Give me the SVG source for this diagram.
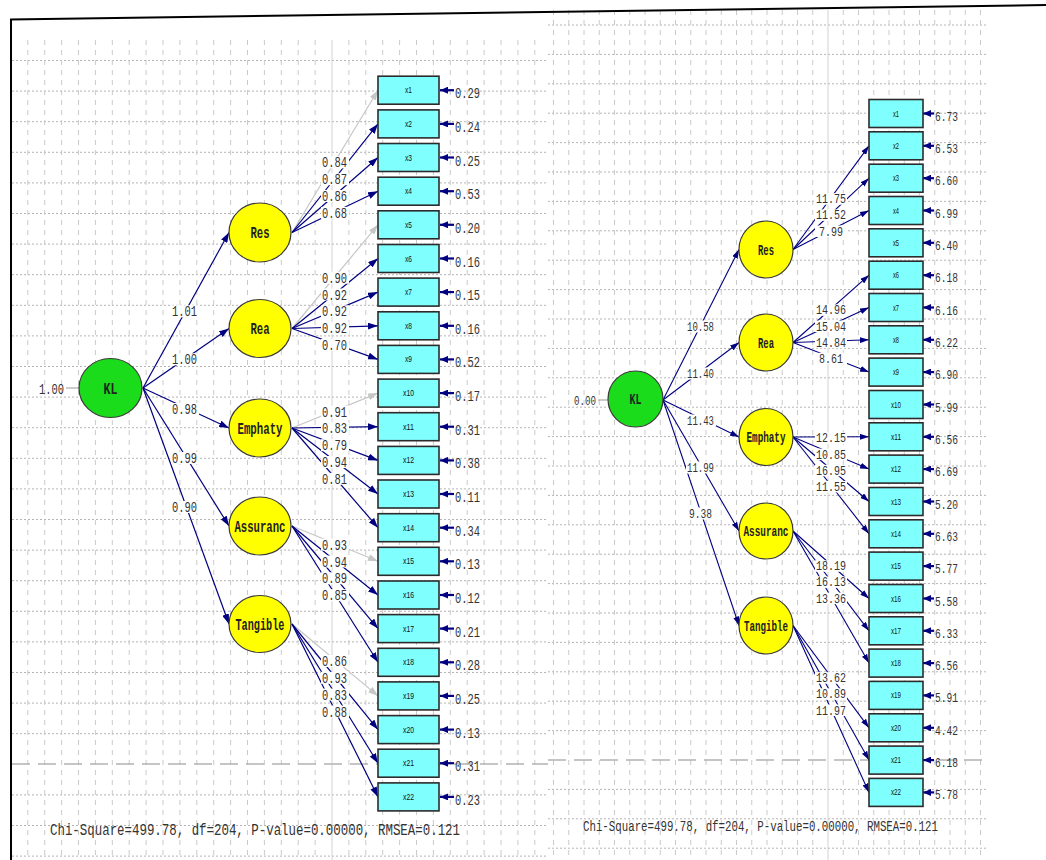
<svg xmlns="http://www.w3.org/2000/svg" width="1046" height="860" viewBox="0 0 1046 860">
<style>
.gh{stroke:#b4b4b4;stroke-width:1;stroke-dasharray:2 2;fill:none}
.gv{stroke:#cacaca;stroke-width:1;stroke-dasharray:5 5;fill:none}
.gm{stroke:#d2d2d2;stroke-width:1;fill:none}
.gl{stroke:#b3b3b3;stroke-width:1.5;stroke-dasharray:18 8;fill:none}
.p{stroke:#000080;stroke-width:1.2;fill:none;marker-end:url(#ah)}
.pg{stroke:#c6c6c6;stroke-width:1.2;fill:none;marker-end:url(#ahg)}
.ps{stroke:#000080;stroke-width:1.1;fill:none;marker-end:url(#ahs)}
.e{stroke:#000080;stroke-width:2.2;fill:none;marker-end:url(#ahe)}
.v{stroke:#999;stroke-width:1;fill:none}
.box{fill:#80ffff;stroke:#2b2b2b;stroke-width:1.6}
.lat{fill:#ffff00;stroke:#3a3a3a;stroke-width:1.2}
.kl{fill:#1adc1a;stroke:#3a3a3a;stroke-width:1.2}
.t{font-family:"Liberation Mono",monospace;fill:#333}
.tl{font-size:15px}
.tr{font-size:13px}
.n{font-family:"Liberation Mono",monospace;font-weight:bold;fill:#222;text-anchor:middle}
.bx{font-family:"Liberation Sans",sans-serif;font-size:9px;fill:#111;text-anchor:middle}
.bg{fill:#fff}
</style>
<defs>
<marker id="ah" viewBox="0 0 10 7" refX="10" refY="3.5" markerWidth="10" markerHeight="7" markerUnits="userSpaceOnUse" orient="auto"><path d="M0,0L10,3.5L0,7z" fill="#000080"/></marker>
<marker id="ahs" viewBox="0 0 9 6" refX="9" refY="3" markerWidth="9" markerHeight="6" markerUnits="userSpaceOnUse" orient="auto"><path d="M0,0L9,3L0,6z" fill="#000080"/></marker>
<marker id="ahg" viewBox="0 0 10 7" refX="10" refY="3.5" markerWidth="10" markerHeight="7" markerUnits="userSpaceOnUse" orient="auto"><path d="M0,0L10,3.5L0,7z" fill="#c6c6c6"/></marker>
<marker id="ahe" viewBox="0 0 8 7" refX="8" refY="3.5" markerWidth="8" markerHeight="7" markerUnits="userSpaceOnUse" orient="auto"><path d="M0,0L8,3.5L0,7z" fill="#000080"/></marker>
</defs>
<rect width="1046" height="860" fill="#fff"/>
<g id="grid">
<path class="gh" d="M12 60.5H548M12 91.1H548M12 121.7H548M12 152.3H548M12 182.9H548M12 213.5H548M12 244.1H548M12 274.7H548M12 305.3H548M12 335.9H548M12 366.5H548M12 397.1H548M12 427.7H548M12 458.3H548M12 488.9H548M12 519.5H548M12 550.1H548M12 580.7H548M12 611.3H548M12 641.9H548M12 672.5H548M12 703.1H548M12 733.7H548M12 794.9H548M12 825.5H548M12 856.1H548"/>
<path class="gv" d="M27.8 40V860M44.7 40V860M61.6 40V860M78.5 40V860M95.4 40V860M112.3 40V860M129.2 40V860M146.1 40V860M163 40V860M179.9 40V860M196.8 40V860M213.7 40V860M230.6 40V860M247.5 40V860M264.4 40V860M281.3 40V860M298.2 40V860M315.1 40V860M348.9 40V860M365.8 40V860M382.7 40V860M399.6 40V860M416.5 40V860M433.4 40V860M450.3 40V860M467.2 40V860M484.1 40V860M501 40V860M517.9 40V860M534.8 40V860"/>
<path class="gh" d="M548 25H988M548 54.4H988M548 83.8H988M548 113.2H988M548 142.6H988M548 172H988M548 201.4H988M548 230.8H988M548 260.2H988M548 289.6H988M548 319H988M548 348.4H988M548 377.8H988M548 407.2H988M548 436.6H988M548 466H988M548 495.4H988M548 524.8H988M548 554.2H988M548 583.6H988M548 613H988M548 642.4H988M548 671.8H988M548 701.2H988M548 730.6H988M548 789.4H988M548 818.8H988M548 848.2H988"/>
<path class="gv" d="M553.5 10V860M568.75 10V860M584 10V860M599.25 10V860M614.5 10V860M629.75 10V860M645 10V860M660.25 10V860M675.5 10V860M690.75 10V860M706 10V860M721.25 10V860M736.5 10V860M751.75 10V860M767 10V860M782.25 10V860M797.5 10V860M812.75 10V860M843.25 10V860M858.5 10V860M873.75 10V860M889 10V860M904.25 10V860M919.5 10V860M934.75 10V860M950 10V860M965.25 10V860M980.5 10V860"/>
<path class="gm" d="M332 40V860M828 10V860"/>
<path class="gl" d="M12 764H548M548 760H988"/>
</g>
<g id="frame">
<path d="M10 19.5L1046 5" stroke="#000" stroke-width="2" fill="none"/>
<path d="M11 19V860" stroke="#000" stroke-width="2" fill="none"/>
</g>
<g id="connectors">
<path class="v" d="M66 388H79"/>
<path class="p" d="M143 388L229 232.5"/>
<path class="p" d="M143 388L229 328.5"/>
<path class="p" d="M143 388L229 428"/>
<path class="p" d="M143 388L229 526"/>
<path class="p" d="M143 388L229 624"/>
<path class="pg" d="M292 232.5L378 90.2"/>
<path class="p" d="M292 232.5L378 123.9"/>
<path class="p" d="M292 232.5L378 157.5"/>
<path class="p" d="M292 232.5L378 191.2"/>
<path class="pg" d="M292 328.5L378 224.8"/>
<path class="p" d="M292 328.5L378 258.5"/>
<path class="p" d="M292 328.5L378 292.1"/>
<path class="p" d="M292 328.5L378 325.8"/>
<path class="p" d="M292 328.5L378 359.4"/>
<path class="pg" d="M292 428L378 393.1"/>
<path class="p" d="M292 428L378 426.7"/>
<path class="p" d="M292 428L378 460.4"/>
<path class="p" d="M292 428L378 494"/>
<path class="p" d="M292 428L378 527.7"/>
<path class="pg" d="M292 526L378 561.3"/>
<path class="p" d="M292 526L378 595"/>
<path class="p" d="M292 526L378 628.6"/>
<path class="p" d="M292 526L378 662.3"/>
<path class="pg" d="M292 624L378 695.9"/>
<path class="p" d="M292 624L378 729.6"/>
<path class="p" d="M292 624L378 763.2"/>
<path class="p" d="M292 624L378 796.9"/>
<g id="err-left">
<path class="e" d="M454 90.2H440"/><path class="e" d="M454 123.9H440"/><path class="e" d="M454 157.5H440"/><path class="e" d="M454 191.2H440"/><path class="e" d="M454 224.8H440"/><path class="e" d="M454 258.5H440"/><path class="e" d="M454 292.1H440"/><path class="e" d="M454 325.8H440"/><path class="e" d="M454 359.4H440"/><path class="e" d="M454 393.1H440"/><path class="e" d="M454 426.7H440"/><path class="e" d="M454 460.4H440"/><path class="e" d="M454 494H440"/><path class="e" d="M454 527.7H440"/><path class="e" d="M454 561.3H440"/><path class="e" d="M454 595H440"/><path class="e" d="M454 628.6H440"/><path class="e" d="M454 662.3H440"/><path class="e" d="M454 695.9H440"/><path class="e" d="M454 729.6H440"/><path class="e" d="M454 763.2H440"/><path class="e" d="M454 796.9H440"/>
</g>
<g class="bg">
<rect x="171" y="305.3" width="28" height="12"/><rect x="171" y="353.3" width="28" height="12"/><rect x="171" y="403" width="28" height="12"/><rect x="171" y="452" width="28" height="12"/><rect x="171" y="501" width="28" height="12"/>
<rect x="321" y="156.4" width="28" height="12"/><rect x="321" y="173.2" width="28" height="12"/><rect x="321" y="190" width="28" height="12"/><rect x="321" y="206.9" width="28" height="12"/>
<rect x="321" y="271.7" width="28" height="12"/><rect x="321" y="288.5" width="28" height="12"/><rect x="321" y="305.3" width="28" height="12"/><rect x="321" y="322.2" width="28" height="12"/><rect x="321" y="339" width="28" height="12"/>
<rect x="321" y="405.6" width="28" height="12"/><rect x="321" y="422.4" width="28" height="12"/><rect x="321" y="439.2" width="28" height="12"/><rect x="321" y="456" width="28" height="12"/><rect x="321" y="472.9" width="28" height="12"/>
<rect x="321" y="538.7" width="28" height="12"/><rect x="321" y="555.5" width="28" height="12"/><rect x="321" y="572.3" width="28" height="12"/><rect x="321" y="589.2" width="28" height="12"/>
<rect x="321" y="655" width="28" height="12"/><rect x="321" y="671.8" width="28" height="12"/><rect x="321" y="688.6" width="28" height="12"/><rect x="321" y="705.5" width="28" height="12"/>
</g>
<g class="t tl">
<text x="39" y="394" textLength="25" lengthAdjust="spacingAndGlyphs">1.00</text>
<text x="172" y="316.3" textLength="25" lengthAdjust="spacingAndGlyphs">1.01</text>
<text x="172" y="364.3" textLength="25" lengthAdjust="spacingAndGlyphs">1.00</text>
<text x="172" y="414" textLength="25" lengthAdjust="spacingAndGlyphs">0.98</text>
<text x="172" y="463" textLength="25" lengthAdjust="spacingAndGlyphs">0.99</text>
<text x="172" y="512" textLength="25" lengthAdjust="spacingAndGlyphs">0.90</text>
<text x="322" y="167.4" textLength="25" lengthAdjust="spacingAndGlyphs">0.84</text>
<text x="322" y="184.2" textLength="25" lengthAdjust="spacingAndGlyphs">0.87</text>
<text x="322" y="201" textLength="25" lengthAdjust="spacingAndGlyphs">0.86</text>
<text x="322" y="217.9" textLength="25" lengthAdjust="spacingAndGlyphs">0.68</text>
<text x="322" y="282.7" textLength="25" lengthAdjust="spacingAndGlyphs">0.90</text>
<text x="322" y="299.5" textLength="25" lengthAdjust="spacingAndGlyphs">0.92</text>
<text x="322" y="316.3" textLength="25" lengthAdjust="spacingAndGlyphs">0.92</text>
<text x="322" y="333.2" textLength="25" lengthAdjust="spacingAndGlyphs">0.92</text>
<text x="322" y="350" textLength="25" lengthAdjust="spacingAndGlyphs">0.70</text>
<text x="322" y="416.6" textLength="25" lengthAdjust="spacingAndGlyphs">0.91</text>
<text x="322" y="433.4" textLength="25" lengthAdjust="spacingAndGlyphs">0.83</text>
<text x="322" y="450.2" textLength="25" lengthAdjust="spacingAndGlyphs">0.79</text>
<text x="322" y="467" textLength="25" lengthAdjust="spacingAndGlyphs">0.94</text>
<text x="322" y="483.9" textLength="25" lengthAdjust="spacingAndGlyphs">0.81</text>
<text x="322" y="549.7" textLength="25" lengthAdjust="spacingAndGlyphs">0.93</text>
<text x="322" y="566.5" textLength="25" lengthAdjust="spacingAndGlyphs">0.94</text>
<text x="322" y="583.3" textLength="25" lengthAdjust="spacingAndGlyphs">0.89</text>
<text x="322" y="600.2" textLength="25" lengthAdjust="spacingAndGlyphs">0.85</text>
<text x="322" y="666" textLength="25" lengthAdjust="spacingAndGlyphs">0.86</text>
<text x="322" y="682.8" textLength="25" lengthAdjust="spacingAndGlyphs">0.93</text>
<text x="322" y="699.6" textLength="25" lengthAdjust="spacingAndGlyphs">0.83</text>
<text x="322" y="716.5" textLength="25" lengthAdjust="spacingAndGlyphs">0.88</text>
<text x="455" y="98.2" textLength="25" lengthAdjust="spacingAndGlyphs">0.29</text>
<text x="455" y="131.9" textLength="25" lengthAdjust="spacingAndGlyphs">0.24</text>
<text x="455" y="165.5" textLength="25" lengthAdjust="spacingAndGlyphs">0.25</text>
<text x="455" y="199.2" textLength="25" lengthAdjust="spacingAndGlyphs">0.53</text>
<text x="455" y="232.8" textLength="25" lengthAdjust="spacingAndGlyphs">0.20</text>
<text x="455" y="266.5" textLength="25" lengthAdjust="spacingAndGlyphs">0.16</text>
<text x="455" y="300.1" textLength="25" lengthAdjust="spacingAndGlyphs">0.15</text>
<text x="455" y="333.8" textLength="25" lengthAdjust="spacingAndGlyphs">0.16</text>
<text x="455" y="367.4" textLength="25" lengthAdjust="spacingAndGlyphs">0.52</text>
<text x="455" y="401.1" textLength="25" lengthAdjust="spacingAndGlyphs">0.17</text>
<text x="455" y="434.7" textLength="25" lengthAdjust="spacingAndGlyphs">0.31</text>
<text x="455" y="468.4" textLength="25" lengthAdjust="spacingAndGlyphs">0.38</text>
<text x="455" y="502" textLength="25" lengthAdjust="spacingAndGlyphs">0.11</text>
<text x="455" y="535.7" textLength="25" lengthAdjust="spacingAndGlyphs">0.34</text>
<text x="455" y="569.3" textLength="25" lengthAdjust="spacingAndGlyphs">0.13</text>
<text x="455" y="603" textLength="25" lengthAdjust="spacingAndGlyphs">0.12</text>
<text x="455" y="636.6" textLength="25" lengthAdjust="spacingAndGlyphs">0.21</text>
<text x="455" y="670.3" textLength="25" lengthAdjust="spacingAndGlyphs">0.28</text>
<text x="455" y="703.9" textLength="25" lengthAdjust="spacingAndGlyphs">0.25</text>
<text x="455" y="737.6" textLength="25" lengthAdjust="spacingAndGlyphs">0.13</text>
<text x="455" y="771.2" textLength="25" lengthAdjust="spacingAndGlyphs">0.31</text>
<text x="455" y="804.9" textLength="25" lengthAdjust="spacingAndGlyphs">0.23</text>
</g>
<path class="v" d="M598 400H608"/>
<path class="ps" d="M663 400L739 249.5"/>
<path class="ps" d="M663 400L739 342.5"/>
<path class="ps" d="M663 400L739 437"/>
<path class="ps" d="M663 400L739 531"/>
<path class="ps" d="M663 400L739 625.5"/>
<path class="ps" d="M793 249.5L869 145.8"/>
<path class="ps" d="M793 249.5L869 178.2"/>
<path class="ps" d="M793 249.5L869 210.5"/>
<path class="ps" d="M793 342.5L869 275.2"/>
<path class="ps" d="M793 342.5L869 307.5"/>
<path class="ps" d="M793 342.5L869 339.8"/>
<path class="ps" d="M793 342.5L869 372.1"/>
<path class="ps" d="M793 437L869 436.8"/>
<path class="ps" d="M793 437L869 469.1"/>
<path class="ps" d="M793 437L869 501.5"/>
<path class="ps" d="M793 437L869 533.8"/>
<path class="ps" d="M793 531L869 598.5"/>
<path class="ps" d="M793 531L869 630.8"/>
<path class="ps" d="M793 531L869 663.1"/>
<path class="ps" d="M793 625.5L869 727.8"/>
<path class="ps" d="M793 625.5L869 760.1"/>
<path class="ps" d="M793 625.5L869 792.4"/>
<g id="err-right">
<path class="e" d="M934 113.5H923"/><path class="e" d="M934 145.8H923"/><path class="e" d="M934 178.2H923"/><path class="e" d="M934 210.5H923"/><path class="e" d="M934 242.8H923"/><path class="e" d="M934 275.2H923"/><path class="e" d="M934 307.5H923"/><path class="e" d="M934 339.8H923"/><path class="e" d="M934 372.1H923"/><path class="e" d="M934 404.5H923"/><path class="e" d="M934 436.8H923"/><path class="e" d="M934 469.1H923"/><path class="e" d="M934 501.5H923"/><path class="e" d="M934 533.8H923"/><path class="e" d="M934 566.1H923"/><path class="e" d="M934 598.5H923"/><path class="e" d="M934 630.8H923"/><path class="e" d="M934 663.1H923"/><path class="e" d="M934 695.4H923"/><path class="e" d="M934 727.8H923"/><path class="e" d="M934 760.1H923"/><path class="e" d="M934 792.4H923"/>
</g>
<g class="bg">
<rect x="686" y="320.5" width="30" height="12"/><rect x="686" y="367.5" width="30" height="12"/><rect x="686" y="414.5" width="30" height="12"/><rect x="686" y="461.5" width="30" height="12"/><rect x="686" y="507.5" width="30" height="12"/>
<rect x="815" y="193.2" width="32" height="11.5"/><rect x="815" y="209.4" width="32" height="11.5"/><rect x="815" y="225.5" width="32" height="11.5"/>
<rect x="815" y="304.4" width="32" height="11.5"/><rect x="815" y="320.5" width="32" height="11.5"/><rect x="815" y="336.7" width="32" height="11.5"/><rect x="815" y="352.8" width="32" height="11.5"/>
<rect x="815" y="432.4" width="32" height="11.5"/><rect x="815" y="448.6" width="32" height="11.5"/><rect x="815" y="464.8" width="32" height="11.5"/><rect x="815" y="480.9" width="32" height="11.5"/>
<rect x="815" y="560.3" width="32" height="11.5"/><rect x="815" y="576.4" width="32" height="11.5"/><rect x="815" y="592.6" width="32" height="11.5"/>
<rect x="815" y="672.2" width="32" height="11.5"/><rect x="815" y="688.3" width="32" height="11.5"/><rect x="815" y="704.5" width="32" height="11.5"/>
</g>
<g class="t tr">
<text x="574" y="405" textLength="22" lengthAdjust="spacingAndGlyphs">0.00</text>
<text x="687" y="331" textLength="27" lengthAdjust="spacingAndGlyphs">10.58</text>
<text x="687" y="378" textLength="27" lengthAdjust="spacingAndGlyphs">11.40</text>
<text x="687" y="425" textLength="27" lengthAdjust="spacingAndGlyphs">11.43</text>
<text x="687" y="472" textLength="27" lengthAdjust="spacingAndGlyphs">11.99</text>
<text x="689" y="518" textLength="23" lengthAdjust="spacingAndGlyphs">9.38</text>
<text x="816" y="203.2" textLength="30" lengthAdjust="spacingAndGlyphs">11.75</text>
<text x="816" y="219.4" textLength="30" lengthAdjust="spacingAndGlyphs">11.52</text>
<text x="819" y="235.5" textLength="24" lengthAdjust="spacingAndGlyphs">7.99</text>
<text x="816" y="314.4" textLength="30" lengthAdjust="spacingAndGlyphs">14.96</text>
<text x="816" y="330.5" textLength="30" lengthAdjust="spacingAndGlyphs">15.04</text>
<text x="816" y="346.7" textLength="30" lengthAdjust="spacingAndGlyphs">14.84</text>
<text x="819" y="362.8" textLength="24" lengthAdjust="spacingAndGlyphs">8.61</text>
<text x="816" y="442.4" textLength="30" lengthAdjust="spacingAndGlyphs">12.15</text>
<text x="816" y="458.6" textLength="30" lengthAdjust="spacingAndGlyphs">10.85</text>
<text x="816" y="474.8" textLength="30" lengthAdjust="spacingAndGlyphs">16.95</text>
<text x="816" y="490.9" textLength="30" lengthAdjust="spacingAndGlyphs">11.55</text>
<text x="816" y="570.3" textLength="30" lengthAdjust="spacingAndGlyphs">18.19</text>
<text x="816" y="586.4" textLength="30" lengthAdjust="spacingAndGlyphs">16.13</text>
<text x="816" y="602.6" textLength="30" lengthAdjust="spacingAndGlyphs">13.36</text>
<text x="816" y="682.2" textLength="30" lengthAdjust="spacingAndGlyphs">13.62</text>
<text x="816" y="698.3" textLength="30" lengthAdjust="spacingAndGlyphs">10.89</text>
<text x="816" y="714.5" textLength="30" lengthAdjust="spacingAndGlyphs">11.97</text>
<text x="935" y="120.5" textLength="23" lengthAdjust="spacingAndGlyphs">6.73</text>
<text x="935" y="152.8" textLength="23" lengthAdjust="spacingAndGlyphs">6.53</text>
<text x="935" y="185.2" textLength="23" lengthAdjust="spacingAndGlyphs">6.60</text>
<text x="935" y="217.5" textLength="23" lengthAdjust="spacingAndGlyphs">6.99</text>
<text x="935" y="249.8" textLength="23" lengthAdjust="spacingAndGlyphs">6.40</text>
<text x="935" y="282.2" textLength="23" lengthAdjust="spacingAndGlyphs">6.18</text>
<text x="935" y="314.5" textLength="23" lengthAdjust="spacingAndGlyphs">6.16</text>
<text x="935" y="346.8" textLength="23" lengthAdjust="spacingAndGlyphs">6.22</text>
<text x="935" y="379.1" textLength="23" lengthAdjust="spacingAndGlyphs">6.90</text>
<text x="935" y="411.5" textLength="23" lengthAdjust="spacingAndGlyphs">5.99</text>
<text x="935" y="443.8" textLength="23" lengthAdjust="spacingAndGlyphs">6.56</text>
<text x="935" y="476.1" textLength="23" lengthAdjust="spacingAndGlyphs">6.69</text>
<text x="935" y="508.5" textLength="23" lengthAdjust="spacingAndGlyphs">5.20</text>
<text x="935" y="540.8" textLength="23" lengthAdjust="spacingAndGlyphs">6.63</text>
<text x="935" y="573.1" textLength="23" lengthAdjust="spacingAndGlyphs">5.77</text>
<text x="935" y="605.5" textLength="23" lengthAdjust="spacingAndGlyphs">5.58</text>
<text x="935" y="637.8" textLength="23" lengthAdjust="spacingAndGlyphs">6.33</text>
<text x="935" y="670.1" textLength="23" lengthAdjust="spacingAndGlyphs">6.56</text>
<text x="935" y="702.4" textLength="23" lengthAdjust="spacingAndGlyphs">5.91</text>
<text x="935" y="734.8" textLength="23" lengthAdjust="spacingAndGlyphs">4.42</text>
<text x="935" y="767.1" textLength="23" lengthAdjust="spacingAndGlyphs">6.18</text>
<text x="935" y="799.4" textLength="23" lengthAdjust="spacingAndGlyphs">5.78</text>
</g>
</g>
<g id="L_KL"><ellipse class="kl" cx="110.5" cy="388" rx="31.5" ry="29.5"/><text class="n" x="110.5" y="393.5" font-size="17" textLength="14" lengthAdjust="spacingAndGlyphs">KL</text></g>
<g id="L_Res"><ellipse class="lat" cx="260" cy="232.5" rx="31" ry="29.5"/><text class="n" x="260" y="238" font-size="17" textLength="19" lengthAdjust="spacingAndGlyphs">Res</text></g>
<g id="L_Rea"><ellipse class="lat" cx="260" cy="328.5" rx="31" ry="29"/><text class="n" x="260" y="334" font-size="17" textLength="19" lengthAdjust="spacingAndGlyphs">Rea</text></g>
<g id="L_Emphaty"><ellipse class="lat" cx="260" cy="428" rx="31" ry="29"/><text class="n" x="260" y="433.5" font-size="17" textLength="45" lengthAdjust="spacingAndGlyphs">Emphaty</text></g>
<g id="L_Assuranc"><ellipse class="lat" cx="260" cy="526" rx="31" ry="29"/><text class="n" x="260" y="531.5" font-size="17" textLength="51" lengthAdjust="spacingAndGlyphs">Assuranc</text></g>
<g id="L_Tangible"><ellipse class="lat" cx="260" cy="624" rx="31" ry="28.5"/><text class="n" x="260" y="629.5" font-size="17" textLength="49" lengthAdjust="spacingAndGlyphs">Tangible</text></g>
<g id="L_x1"><rect class="box" x="378" y="76.2" width="61" height="28"/><text class="bx" x="408.5" y="93.2" textLength="7" lengthAdjust="spacingAndGlyphs">x1</text></g>
<g id="L_x2"><rect class="box" x="378" y="109.9" width="61" height="28"/><text class="bx" x="408.5" y="126.9" textLength="7" lengthAdjust="spacingAndGlyphs">x2</text></g>
<g id="L_x3"><rect class="box" x="378" y="143.5" width="61" height="28"/><text class="bx" x="408.5" y="160.5" textLength="7" lengthAdjust="spacingAndGlyphs">x3</text></g>
<g id="L_x4"><rect class="box" x="378" y="177.2" width="61" height="28"/><text class="bx" x="408.5" y="194.2" textLength="7" lengthAdjust="spacingAndGlyphs">x4</text></g>
<g id="L_x5"><rect class="box" x="378" y="210.8" width="61" height="28"/><text class="bx" x="408.5" y="227.8" textLength="7" lengthAdjust="spacingAndGlyphs">x5</text></g>
<g id="L_x6"><rect class="box" x="378" y="244.5" width="61" height="28"/><text class="bx" x="408.5" y="261.5" textLength="7" lengthAdjust="spacingAndGlyphs">x6</text></g>
<g id="L_x7"><rect class="box" x="378" y="278.1" width="61" height="28"/><text class="bx" x="408.5" y="295.1" textLength="7" lengthAdjust="spacingAndGlyphs">x7</text></g>
<g id="L_x8"><rect class="box" x="378" y="311.8" width="61" height="28"/><text class="bx" x="408.5" y="328.8" textLength="7" lengthAdjust="spacingAndGlyphs">x8</text></g>
<g id="L_x9"><rect class="box" x="378" y="345.4" width="61" height="28"/><text class="bx" x="408.5" y="362.4" textLength="7" lengthAdjust="spacingAndGlyphs">x9</text></g>
<g id="L_x10"><rect class="box" x="378" y="379.1" width="61" height="28"/><text class="bx" x="408.5" y="396.1" textLength="11" lengthAdjust="spacingAndGlyphs">x10</text></g>
<g id="L_x11"><rect class="box" x="378" y="412.7" width="61" height="28"/><text class="bx" x="408.5" y="429.7" textLength="11" lengthAdjust="spacingAndGlyphs">x11</text></g>
<g id="L_x12"><rect class="box" x="378" y="446.4" width="61" height="28"/><text class="bx" x="408.5" y="463.4" textLength="11" lengthAdjust="spacingAndGlyphs">x12</text></g>
<g id="L_x13"><rect class="box" x="378" y="480" width="61" height="28"/><text class="bx" x="408.5" y="497" textLength="11" lengthAdjust="spacingAndGlyphs">x13</text></g>
<g id="L_x14"><rect class="box" x="378" y="513.7" width="61" height="28"/><text class="bx" x="408.5" y="530.7" textLength="11" lengthAdjust="spacingAndGlyphs">x14</text></g>
<g id="L_x15"><rect class="box" x="378" y="547.3" width="61" height="28"/><text class="bx" x="408.5" y="564.3" textLength="11" lengthAdjust="spacingAndGlyphs">x15</text></g>
<g id="L_x16"><rect class="box" x="378" y="581" width="61" height="28"/><text class="bx" x="408.5" y="598" textLength="11" lengthAdjust="spacingAndGlyphs">x16</text></g>
<g id="L_x17"><rect class="box" x="378" y="614.6" width="61" height="28"/><text class="bx" x="408.5" y="631.6" textLength="11" lengthAdjust="spacingAndGlyphs">x17</text></g>
<g id="L_x18"><rect class="box" x="378" y="648.3" width="61" height="28"/><text class="bx" x="408.5" y="665.3" textLength="11" lengthAdjust="spacingAndGlyphs">x18</text></g>
<g id="L_x19"><rect class="box" x="378" y="681.9" width="61" height="28"/><text class="bx" x="408.5" y="698.9" textLength="11" lengthAdjust="spacingAndGlyphs">x19</text></g>
<g id="L_x20"><rect class="box" x="378" y="715.6" width="61" height="28"/><text class="bx" x="408.5" y="732.6" textLength="11" lengthAdjust="spacingAndGlyphs">x20</text></g>
<g id="L_x21"><rect class="box" x="378" y="749.2" width="61" height="28"/><text class="bx" x="408.5" y="766.2" textLength="11" lengthAdjust="spacingAndGlyphs">x21</text></g>
<g id="L_x22"><rect class="box" x="378" y="782.9" width="61" height="28"/><text class="bx" x="408.5" y="799.9" textLength="11" lengthAdjust="spacingAndGlyphs">x22</text></g>
<g id="R_KL"><ellipse class="kl" cx="635.5" cy="399" rx="27.5" ry="28"/><text class="n" x="635.5" y="404" font-size="15" textLength="12" lengthAdjust="spacingAndGlyphs">KL</text></g>
<g id="R_Res"><ellipse class="lat" cx="766" cy="249.5" rx="27" ry="28.5"/><text class="n" x="766" y="254.5" font-size="15" textLength="16" lengthAdjust="spacingAndGlyphs">Res</text></g>
<g id="R_Rea"><ellipse class="lat" cx="766" cy="342.5" rx="27" ry="28.5"/><text class="n" x="766" y="347.5" font-size="15" textLength="16" lengthAdjust="spacingAndGlyphs">Rea</text></g>
<g id="R_Emphaty"><ellipse class="lat" cx="766" cy="437" rx="27" ry="28.5"/><text class="n" x="766" y="442" font-size="15" textLength="39" lengthAdjust="spacingAndGlyphs">Emphaty</text></g>
<g id="R_Assuranc"><ellipse class="lat" cx="766" cy="531" rx="27" ry="28"/><text class="n" x="766" y="536" font-size="15" textLength="45" lengthAdjust="spacingAndGlyphs">Assuranc</text></g>
<g id="R_Tangible"><ellipse class="lat" cx="766" cy="625.5" rx="27" ry="28.5"/><text class="n" x="766" y="630.5" font-size="15" textLength="44" lengthAdjust="spacingAndGlyphs">Tangible</text></g>
<g id="R_x1"><rect class="box" x="869" y="99.5" width="54" height="28"/><text class="bx" x="896" y="116.5" textLength="6" lengthAdjust="spacingAndGlyphs">x1</text></g>
<g id="R_x2"><rect class="box" x="869" y="131.8" width="54" height="28"/><text class="bx" x="896" y="148.8" textLength="6" lengthAdjust="spacingAndGlyphs">x2</text></g>
<g id="R_x3"><rect class="box" x="869" y="164.2" width="54" height="28"/><text class="bx" x="896" y="181.2" textLength="6" lengthAdjust="spacingAndGlyphs">x3</text></g>
<g id="R_x4"><rect class="box" x="869" y="196.5" width="54" height="28"/><text class="bx" x="896" y="213.5" textLength="6" lengthAdjust="spacingAndGlyphs">x4</text></g>
<g id="R_x5"><rect class="box" x="869" y="228.8" width="54" height="28"/><text class="bx" x="896" y="245.8" textLength="6" lengthAdjust="spacingAndGlyphs">x5</text></g>
<g id="R_x6"><rect class="box" x="869" y="261.2" width="54" height="28"/><text class="bx" x="896" y="278.2" textLength="6" lengthAdjust="spacingAndGlyphs">x6</text></g>
<g id="R_x7"><rect class="box" x="869" y="293.5" width="54" height="28"/><text class="bx" x="896" y="310.5" textLength="6" lengthAdjust="spacingAndGlyphs">x7</text></g>
<g id="R_x8"><rect class="box" x="869" y="325.8" width="54" height="28"/><text class="bx" x="896" y="342.8" textLength="6" lengthAdjust="spacingAndGlyphs">x8</text></g>
<g id="R_x9"><rect class="box" x="869" y="358.1" width="54" height="28"/><text class="bx" x="896" y="375.1" textLength="6" lengthAdjust="spacingAndGlyphs">x9</text></g>
<g id="R_x10"><rect class="box" x="869" y="390.5" width="54" height="28"/><text class="bx" x="896" y="407.5" textLength="10" lengthAdjust="spacingAndGlyphs">x10</text></g>
<g id="R_x11"><rect class="box" x="869" y="422.8" width="54" height="28"/><text class="bx" x="896" y="439.8" textLength="10" lengthAdjust="spacingAndGlyphs">x11</text></g>
<g id="R_x12"><rect class="box" x="869" y="455.1" width="54" height="28"/><text class="bx" x="896" y="472.1" textLength="10" lengthAdjust="spacingAndGlyphs">x12</text></g>
<g id="R_x13"><rect class="box" x="869" y="487.5" width="54" height="28"/><text class="bx" x="896" y="504.5" textLength="10" lengthAdjust="spacingAndGlyphs">x13</text></g>
<g id="R_x14"><rect class="box" x="869" y="519.8" width="54" height="28"/><text class="bx" x="896" y="536.8" textLength="10" lengthAdjust="spacingAndGlyphs">x14</text></g>
<g id="R_x15"><rect class="box" x="869" y="552.1" width="54" height="28"/><text class="bx" x="896" y="569.1" textLength="10" lengthAdjust="spacingAndGlyphs">x15</text></g>
<g id="R_x16"><rect class="box" x="869" y="584.5" width="54" height="28"/><text class="bx" x="896" y="601.5" textLength="10" lengthAdjust="spacingAndGlyphs">x16</text></g>
<g id="R_x17"><rect class="box" x="869" y="616.8" width="54" height="28"/><text class="bx" x="896" y="633.8" textLength="10" lengthAdjust="spacingAndGlyphs">x17</text></g>
<g id="R_x18"><rect class="box" x="869" y="649.1" width="54" height="28"/><text class="bx" x="896" y="666.1" textLength="10" lengthAdjust="spacingAndGlyphs">x18</text></g>
<g id="R_x19"><rect class="box" x="869" y="681.4" width="54" height="28"/><text class="bx" x="896" y="698.4" textLength="10" lengthAdjust="spacingAndGlyphs">x19</text></g>
<g id="R_x20"><rect class="box" x="869" y="713.8" width="54" height="28"/><text class="bx" x="896" y="730.8" textLength="10" lengthAdjust="spacingAndGlyphs">x20</text></g>
<g id="R_x21"><rect class="box" x="869" y="746.1" width="54" height="28"/><text class="bx" x="896" y="763.1" textLength="10" lengthAdjust="spacingAndGlyphs">x21</text></g>
<g id="R_x22"><rect class="box" x="869" y="778.4" width="54" height="28"/><text class="bx" x="896" y="795.4" textLength="10" lengthAdjust="spacingAndGlyphs">x22</text></g>
<g id="fit">
<text class="t" x="50" y="835" font-size="16" textLength="410" lengthAdjust="spacingAndGlyphs">Chi-Square=499.78, df=204, P-value=0.00000, RMSEA=0.121</text>
<text class="t" x="583" y="831" font-size="14" textLength="355" lengthAdjust="spacingAndGlyphs">Chi-Square=499.78, df=204, P-value=0.00000, RMSEA=0.121</text>
</g>
</svg>
